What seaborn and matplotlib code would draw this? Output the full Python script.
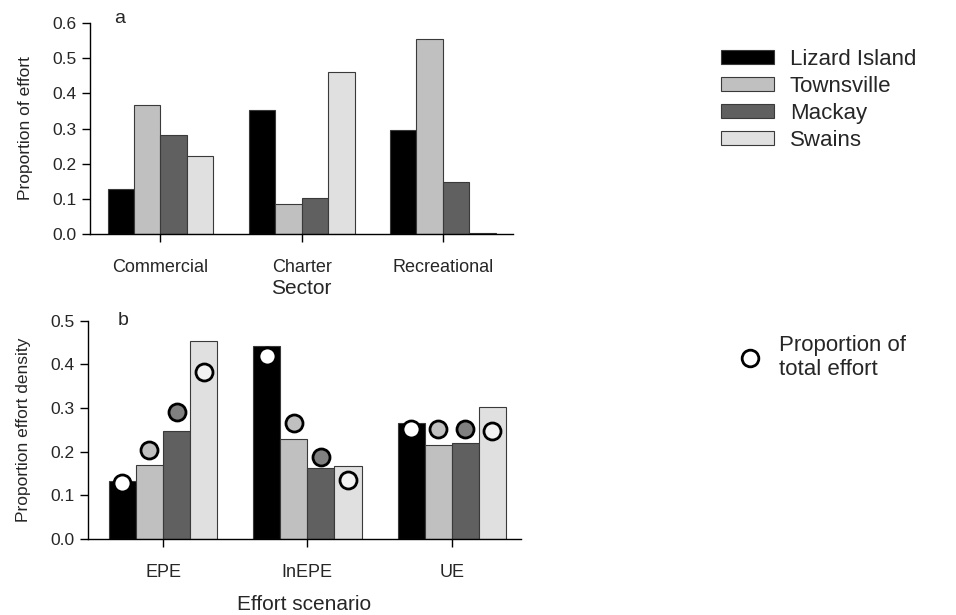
import numpy as np
import pandas as pd
import matplotlib
matplotlib.use("Agg")
import matplotlib.pyplot as plt
import seaborn as sns
from matplotlib.lines import Line2D

# -------- data --------
regions = ["Lizard Island", "Townsville", "Mackay", "Swains"]
sectors = ["Commercial", "Charter", "Recreational"]
scenarios = ["EPE", "InEPE", "UE"]

# panel a : proportion of effort (one list per region, values per sector)
effort_lizard = [0.128, 0.352, 0.295]
effort_townsville = [0.368, 0.086, 0.556]
effort_mackay = [0.281, 0.103, 0.147]
effort_swains = [0.222, 0.461, 0.004]

# panel b : proportion effort density (one list per region, values per scenario)
density_lizard = [0.133, 0.442, 0.265]
density_townsville = [0.170, 0.229, 0.216]
density_mackay = [0.247, 0.163, 0.220]
density_swains = [0.453, 0.167, 0.302]

# panel b circles : proportion of total effort
total_lizard = [0.128, 0.419, 0.253]
total_townsville = [0.203, 0.265, 0.252]
total_mackay = [0.290, 0.187, 0.252]
total_swains = [0.382, 0.135, 0.248]

bar_colors = ["#000000", "#c0c0c0", "#606060", "#e0e0e0"]
circle_colors = ["#ffffff", "#c0c0c0", "#808080", "#f2f2f2"]

# long tables for seaborn
df_a = pd.DataFrame({
    "Sector": np.tile(sectors, 4),
    "Region": np.repeat(regions, 3),
    "value": effort_lizard + effort_townsville + effort_mackay + effort_swains,
})
df_b = pd.DataFrame({
    "Scenario": np.tile(scenarios, 4),
    "Region": np.repeat(regions, 3),
    "value": density_lizard + density_townsville + density_mackay + density_swains,
})
totals = [total_lizard, total_townsville, total_mackay, total_swains]

sns.set_style("ticks")
plt.rcParams["font.family"] = ["Liberation Sans", "DejaVu Sans"]

fig = plt.figure(figsize=(9.56, 6.15), dpi=100)
ax1 = fig.add_axes([0.094, 0.6195, 0.443, 0.343])
ax2 = fig.add_axes([0.092, 0.1236, 0.453, 0.355])

pal = dict(zip(regions, bar_colors))

# -------- panel a --------
sns.barplot(data=df_a, x="Sector", y="value", hue="Region", order=sectors,
            hue_order=regions, palette=pal, width=0.75, gap=0, saturation=1,
            edgecolor="#3a3a3a", linewidth=0.8, ax=ax1)
ax1.set_ylim(0, 0.6)
ax1.set_xlim(-0.5, 2.5)
ax1.set_yticks(np.arange(0, 0.61, 0.1))
ax1.set_yticklabels([f"{v:.1f}" for v in np.arange(0, 0.61, 0.1)])
ax1.set_ylabel("Proportion of effort", fontsize=12.5, labelpad=14)
ax1.set_xlabel("Sector", fontsize=15, labelpad=2)
ax1.text(0.057, 1.02, "a", transform=ax1.transAxes, fontsize=14, va="center")

handles, labels = ax1.get_legend_handles_labels()
ax1.get_legend().remove()
fig.legend(handles, labels, loc="upper left", bbox_to_anchor=(0.745, 0.935),
           frameon=False, fontsize=16, handlelength=2.4, handleheight=0.55,
           labelspacing=0.27, handletextpad=0.7, borderaxespad=0)

# -------- panel b --------
sns.barplot(data=df_b, x="Scenario", y="value", hue="Region", order=scenarios,
            hue_order=regions, palette=pal, width=0.75, gap=0, saturation=1,
            edgecolor="#3a3a3a", linewidth=0.8, legend=False, ax=ax2)
for cont, vals, col in zip(ax2.containers, totals, circle_colors):
    xs = [b.get_x() + b.get_width() / 2 for b in cont]
    ax2.scatter(xs, vals, s=150, facecolor=col, edgecolor="black",
                linewidth=2, zorder=5)
ax2.set_ylim(0, 0.5)
ax2.set_xlim(-0.52, 2.48)
ax2.set_yticks(np.arange(0, 0.51, 0.1))
ax2.set_yticklabels([f"{v:.1f}" for v in np.arange(0, 0.51, 0.1)])
ax2.set_ylabel("Proportion effort density", fontsize=12.5, labelpad=14)
ax2.set_xlabel("Effort scenario", fontsize=15, labelpad=10)
ax2.text(0.069, 1.0, "b", transform=ax2.transAxes, fontsize=14, va="center")

circ = Line2D([], [], marker="o", linestyle="none", markersize=12,
              markerfacecolor="white", markeredgecolor="black", markeredgewidth=2)
fig.legend([circ], ["Proportion of\ntotal effort"], loc="upper left",
           bbox_to_anchor=(0.764, 0.47), frameon=False, fontsize=16,
           handlelength=1.0, handletextpad=0.8, borderaxespad=0)

for ax in (ax1, ax2):
    sns.despine(ax=ax)
    ax.tick_params(axis="both", direction="out", length=6, width=1,
                   color="black", labelsize=12.5)
    ax.tick_params(axis="x", labelsize=13, pad=12)
    for s in ("left", "bottom"):
        ax.spines[s].set_color("black")
        ax.spines[s].set_linewidth(1)

fig.savefig("out.png", dpi=100)
